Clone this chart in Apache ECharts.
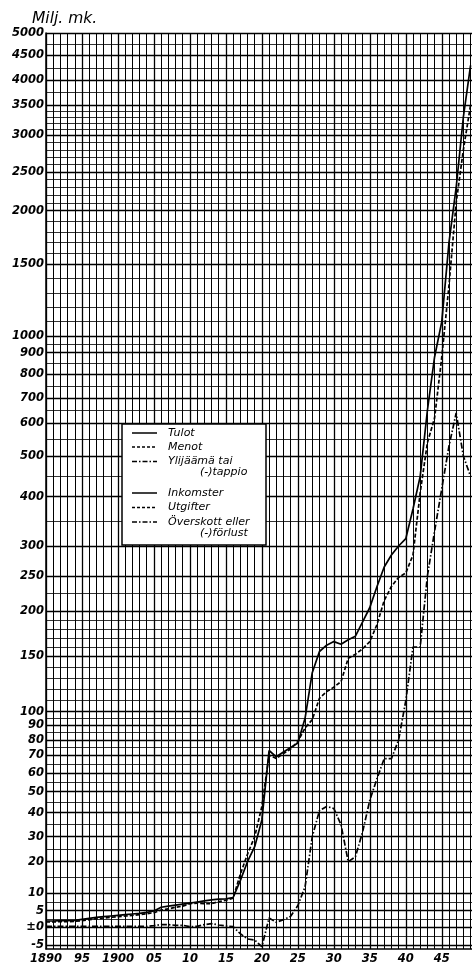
<!DOCTYPE html>
<html><head><meta charset="utf-8">
<script src="https://cdn.jsdelivr.net/npm/echarts@6/dist/echarts.min.js"></script>
<style>html,body{margin:0;padding:0;background:#fff}#c{width:472px;height:966px}</style>
</head><body><div id="c"></div>
<script>
// ---- data (Milj. mk.) ----
const years = [1890,1891,1892,1893,1894,1895,1896,1897,1898,1899,
  1900,1901,1902,1903,1904,1905,1906,1907,1908,1909,
  1910,1911,1912,1913,1914,1915,1916,1917,1918,1919,
  1920,1921,1922,1923,1924,1925,1926,1927,1928,1929,
  1930,1931,1932,1933,1934,1935,1936,1937,1938,1939,
  1940,1941,1942,1943,1944,1945,1946,1947,1948,1949];
const tulot = [1.9,1.9,2.0,2.0,2.1,2.4,2.7,3.0,3.2,3.4,
  3.6,3.8,4.0,4.2,4.5,4.9,6.0,6.3,6.6,6.9,
  7.2,7.5,7.8,8.1,8.3,8.4,8.8,14,20,26,
  37,73,69,72,75,78,95,135,155,162,
  166,163,168,172,188,205,235,265,285,300,
  315,375,450,650,880,1100,1700,2300,3300,4300];
const menot = [1.6,1.6,1.7,1.7,1.8,2.0,2.3,2.6,2.8,3.0,
  3.2,3.4,3.6,3.8,4.1,4.4,5.2,5.5,6.0,6.3,
  7.0,7.2,7.0,7.0,7.6,8.0,8.6,16,23,30,
  43,70,68,71,74,79,88,94,112,118,
  122,127,148,152,158,166,185,215,235,248,
  255,285,410,540,620,880,1350,2100,2800,3500];
const ylijaama = [0.3,0.3,0.3,0.3,0.3,0.3,0.3,0.3,0.3,0.3,
  0.3,0.3,0.3,0.3,0.3,0.5,0.8,0.8,0.6,0.6,
  0.2,0.3,0.8,1.1,0.7,0.4,0.2,-1.8,-3.3,-3.6,
  -5.5,2.8,1.5,2.3,3.3,6.5,12,30,41,43,
  42,35,20,22,32,46,57,68,68,80,
  110,160,160,250,330,420,530,640,500,450];

const yTickValues = [5000,4500,4000,3500,3000,2500,2000,1500,1000,900,800,700,600,500,400,300,250,200,150,100,90,80,70,60,50,40,30,20,10,5,0,-5];
const yTickLabels = ['5000','4500','4000','3500','3000','2500','2000','1500','1000','900','800','700','600','500','400','300','250','200','150','100','90','80','70','60','50','40','30','20','10','5','±0','-5'];
const xTickYears = [1890,1895,1900,1905,1910,1915,1920,1925,1930,1935,1940,1945];
const xTickLabels = ['1890','95','1900','05','10','15','20','25','30','35','40','45'];

// ---- the chart's own (non-standard) vertical scale: value -> height units ----
const scaleValues  = [-6.2,-5,0,5,10,20,30,40,50,60,70,80,90,100,150,200,250,300,400,500,600,700,800,900,1000,1500,2000,2500,3000,3500,4000,4500,5000];
const scaleHeights = [0,4,21.7,38.3,55.7,87.3,112.3,136.3,157.3,176,194,209,224,237.3,293,338,373,403,452.3,493,526,551,575,596.3,613,685,738.3,777,814,844,869,893.5,916];
function toAxis(v){
  const n = scaleValues.length;
  if (v <= scaleValues[0]) return scaleHeights[0];
  for (let i=0;i<n-1;i++){
    if (v <= scaleValues[i+1]){
      const t = (v-scaleValues[i])/(scaleValues[i+1]-scaleValues[i]);
      return scaleHeights[i] + t*(scaleHeights[i+1]-scaleHeights[i]);
    }
  }
  return scaleHeights[n-1];
}

// grid line values
const hLines = [];
[-5,-2.5,0,2.5,5,7.5].forEach(v=>hLines.push(v));
for (let v=10; v<=100; v+=5) hLines.push(v);
for (let v=110; v<=190; v+=10) hLines.push(v);
hLines.push(200,225);
for (let v=250; v<=1000; v+=50) hLines.push(v);
for (let v=1100; v<=3500; v+=100) hLines.push(v);
hLines.push(3750,4000,4250,4500,4750,5000);

const gridMarks = [];
hLines.forEach(v=>{
  const major = yTickValues.indexOf(v) >= 0;
  gridMarks.push({yAxis: toAxis(v), lineStyle:{color:'#000', width: major?1.3:0.8, type:'solid'}});
});
years.forEach(y=>{
  gridMarks.push({xAxis: y, lineStyle:{color:'#000', width: (y%5===0)?1.3:1.0, type:'solid'}});
});

const lab = {fontFamily:'DejaVu Sans', fontWeight:'bold', fontStyle:'italic', fontSize:11.5, color:'#000'};
const tickPos = yTickValues.map(toAxis);

function series(name, vals, dash, z){
  return {
    name, type:'line', z, symbol:'none', silent:true,
    data: years.map((y,i)=>[y, toAxis(vals[i])]),
    lineStyle:{color:'#000', width:1.7, type:dash}
  };
}

const legendFont = 'italic 11px "DejaVu Sans"';
function legLine(y, dash){
  return {type:'line', z:101, shape:{x1:132,y1:y,x2:157,y2:y}, style:{stroke:'#000', lineWidth:1.5, lineDash:dash}};
}
function legText(x, y, t){
  return {type:'text', z:101, x, y, style:{text:t, font:legendFont, fill:'#000', verticalAlign:'middle', align:'left'}};
}

const chart = echarts.init(document.getElementById('c'), null, {renderer:'canvas'});
chart.setOption({
  animation:false,
  backgroundColor:'#fff',
  title:{text:'Milj. mk.', left:27, top:6, textStyle:{fontFamily:'DejaVu Sans', fontStyle:'italic', fontWeight:'normal', fontSize:15.5, color:'#000'}},
  grid:{left:46, right:0, top:33, bottom:17},
  xAxis:{type:'value', min:1890, max:1949.2,
    axisLine:{show:true, lineStyle:{color:'#000', width:1.5}},
    axisTick:{show:false}, splitLine:{show:false},
    axisLabel:Object.assign({customValues:xTickYears, margin:4,
      formatter:(v)=>{const i=xTickYears.indexOf(Math.round(v)); return i>=0?xTickLabels[i]:'';}}, lab)},
  yAxis:{type:'value', min:0, max:916,
    axisLine:{show:true, lineStyle:{color:'#000', width:1.5}},
    axisTick:{show:false}, splitLine:{show:false},
    axisLabel:Object.assign({customValues:tickPos, margin:2,
      formatter:(v)=>{let b=0,d=1e9; tickPos.forEach((p,i)=>{const dd=Math.abs(p-v); if(dd<d){d=dd;b=i;}}); return yTickLabels[b];}}, lab)},
  series:[
    {type:'line', z:1, silent:true, symbol:'none', data:[[1890,0]], lineStyle:{opacity:0},
     markLine:{silent:true, symbol:['none','none'], label:{show:false}, animation:false, data:gridMarks}},
    series('Tulot / Inkomster', tulot, 'solid', 5),
    series('Menot / Utgifter', menot, [4,2], 5),
    series('Ylijäämä tai (-)tappio / Överskott eller (-)förlust', ylijaama, [6,2,1.5,2], 5)
  ],
  graphic:{elements:[
    {type:'rect', z:100, shape:{x:122,y:424,width:144,height:121}, style:{fill:'#fff', stroke:'#000', lineWidth:1.5}},
    legLine(433, null), legText(168,433,'Tulot'),
    legLine(447, [3,2]), legText(168,447,'Menot'),
    legLine(461.5, [5,2,1.5,2]), legText(168,461.5,'Ylijäämä tai'),
    legText(200,472.5,'(-)tappio'),
    legLine(493, null), legText(168,493,'Inkomster'),
    legLine(507.5, [3,2]), legText(168,507.5,'Utgifter'),
    legLine(522, [5,2,1.5,2]), legText(168,522,'Överskott eller'),
    legText(200,533,'(-)förlust')
  ]}
});
</script>
</body></html>
